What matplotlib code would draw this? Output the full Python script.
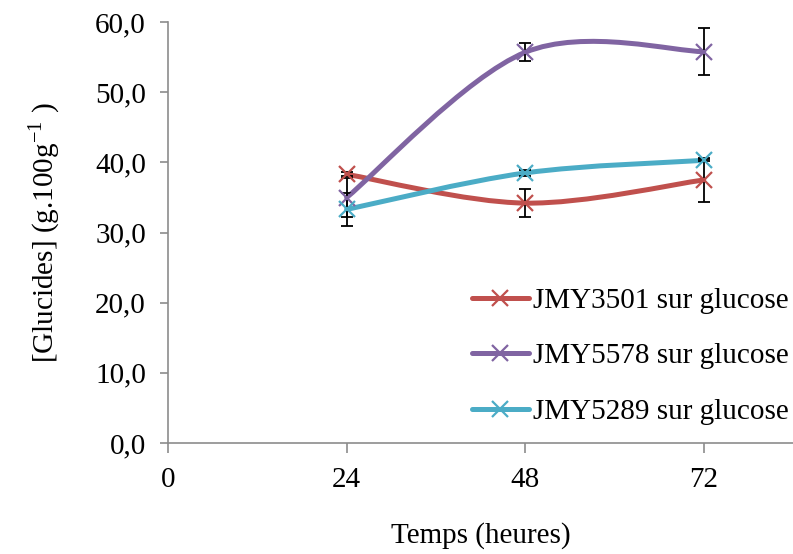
import matplotlib
matplotlib.use('Agg')
import matplotlib.pyplot as plt
from matplotlib.path import Path
from matplotlib.patches import PathPatch
from matplotlib.lines import Line2D

plt.rcParams['font.family'] = ['Liberation Serif', 'DejaVu Serif']
plt.rcParams['mathtext.fontset'] = 'custom'
plt.rcParams['mathtext.rm'] = 'Liberation Serif'

# donnees
temps = [24, 48, 72]
labels = ['JMY3501 sur glucose', 'JMY5578 sur glucose', 'JMY5289 sur glucose']
jmy3501 = [38.3, 34.2, 37.5]
jmy3501_err = [0.3, 1.95, 3.2]
jmy5578 = [35.0, 55.7, 55.8]
jmy5578_err = [2.8, 1.3, 3.35]
jmy5289 = [33.3, 38.5, 40.3]
jmy5289_err = [2.4, 0.4, 0.15]
couleurs = ['#C0504D', '#8064A2', '#4BACC6']
yticks = [0, 10, 20, 30, 40, 50, 60]
xticks = [0, 24, 48, 72]

FS = 21


def smooth_path(x, y):
    # courbe lissee facon Excel (bezier catmull-rom)
    pts = list(zip(x, y))
    verts = [pts[0]]
    codes = [Path.MOVETO]
    n = len(pts)
    for i in range(n - 1):
        p0 = pts[i - 1] if i > 0 else pts[i]
        p1 = pts[i]
        p2 = pts[i + 1]
        p3 = pts[i + 2] if i + 2 < n else pts[i + 1]
        c1 = (p1[0] + (p2[0] - p0[0]) / 6, p1[1] + (p2[1] - p0[1]) / 6)
        c2 = (p2[0] - (p3[0] - p1[0]) / 6, p2[1] - (p3[1] - p1[1]) / 6)
        verts += [c1, c2, p2]
        codes += [Path.CURVE4] * 3
    return Path(verts, codes)


fig = plt.figure(figsize=(7.93, 5.54), dpi=100)
ax = fig.add_axes([0.212, 0.2004, 0.788, 0.7596])

series = [(jmy3501, jmy3501_err), (jmy5578, jmy5578_err), (jmy5289, jmy5289_err)]
handles = []
for (vals, errs), c, lab in zip(series, couleurs, labels):
    ax.add_patch(PathPatch(smooth_path(temps, vals), facecolor='none', edgecolor=c,
                           lw=3.6, capstyle='round', zorder=2))
    ax.errorbar(temps, vals, yerr=errs, fmt='none', ecolor='black', elinewidth=1.3,
                capsize=4.5, capthick=1.3, zorder=3)
    ax.plot(temps, vals, linestyle='none', marker='x', markersize=11.5, mew=1.6,
            color=c, zorder=4)
    handles.append(Line2D([], [], color=c, lw=3.6, marker='x', markersize=11.5,
                          mew=1.6, solid_capstyle='round'))

ax.set_xlim(0, 84)
ax.set_ylim(0, 60)
ax.set_xticks(xticks)
ax.set_yticks(yticks)
ax.set_yticklabels([('%.1f' % v).replace('.', ',') for v in yticks])

for s in ['top', 'right']:
    ax.spines[s].set_visible(False)
for s in ['left', 'bottom']:
    ax.spines[s].set_color('#8c8c8c')
    ax.spines[s].set_linewidth(1.2)
ax.tick_params(axis='y', direction='out', length=6, width=1.2, color='#8c8c8c',
               labelsize=FS, pad=10)
ax.tick_params(axis='x', direction='out', length=7, width=1.2, color='#8c8c8c',
               labelsize=FS, pad=10)

ax.set_xlabel('Temps (heures)', fontsize=FS, labelpad=21)
ax.set_ylabel(r'[Glucides] (g.100g$^{\mathregular{-1}}$ )', fontsize=FS, labelpad=24)

ax.legend(handles, labels, loc='lower right', bbox_to_anchor=(1.012, 0.015), frameon=False,
          fontsize=FS, labelspacing=1.0, handlelength=1.95, handletextpad=0.15,
          borderaxespad=0.0)

fig.savefig('out.png', dpi=100)
